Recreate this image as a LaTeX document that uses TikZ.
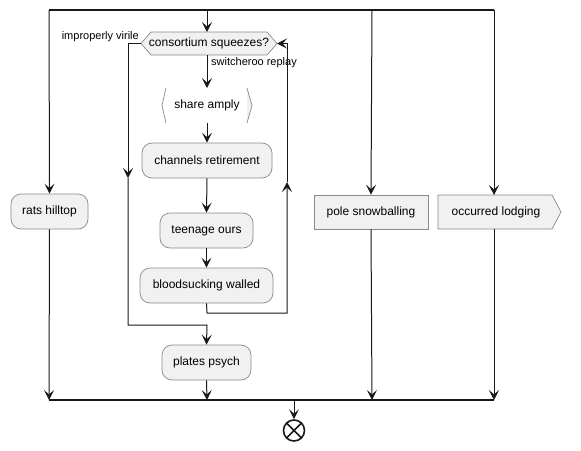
\documentclass[tikz,border=0pt]{standalone}
\usepackage{fontspec}
\setmainfont{Liberation Sans}
\usetikzlibrary{arrows.meta,calc}
\definecolor{boxfill}{HTML}{F1F1F1}
\definecolor{ln}{HTML}{181818}
\definecolor{bd}{HTML}{8A8A8A}
\begin{document}
\begin{tikzpicture}[x=1pt,y=-1pt,
  >={Stealth[length=10pt,width=10pt,inset=4.5pt]},
  txt/.style={font=\fontsize{12}{14}\selectfont, inner sep=0pt},
  lbl/.style={font=\fontsize{11}{13}\selectfont, inner sep=0pt},
  act/.style={draw=bd, fill=boxfill, rounded corners=10pt, line width=0.7pt, inner sep=0pt, minimum height=35pt, txt},
  plain/.style={draw=bd, fill=boxfill, line width=0.7pt, inner sep=0pt, minimum height=34pt, txt},
  shp/.style={draw=bd, fill=boxfill, line width=0.7pt, line join=miter},
  flow/.style={draw=ln, line width=1pt},
  bar/.style={draw=ln, line width=1.6pt}]
\useasboundingbox (0,0) rectangle (581,450);

% top bar
\coordinate (t1) at (49,10);
\coordinate (t2) at (207,10);
\coordinate (t3) at (372,10);
\coordinate (t4) at (494,10);
\draw[bar] (t1) -- (t4);

% diamond
\draw[shp] (141,43.5) -- (151,32) -- (267,32) -- (277,43.5) -- (267,55) -- (151,55) -- cycle;
\node[txt] (dec) at (209,43.5) {consortium squeezes?};
\coordinate (dtop) at (207,32);
\coordinate (dbot) at (207,55);
\coordinate (dl) at (141,43.5);
\coordinate (dr) at (277,43.5);
\node[lbl, anchor=east] (lno) at (139,37) {improperly virile};
\node[lbl, anchor=west] (lyes) at (211,63) {switcheroo replay};

% share amply
\fill[boxfill] (247,88) -- (252,105.5) -- (247,123) -- cycle;
\draw[bd, line width=0.7pt] (166,88) -- (162,105.5) -- (166,123);
\draw[bd, line width=0.7pt] (247,88) -- (252,105.5) -- (247,123);
\node[txt] (share) at (207,105.5) {share amply};
\coordinate (stop) at (207,88);
\coordinate (sbot) at (207,123);

% actions
\node[act, minimum width=77pt] (rats) at (49.5,211.5) {rats hilltop};
\node[act, minimum width=130pt] (chan) at (207,160.5) {channels retirement};
\node[act, minimum width=93pt] (teen) at (206.5,230.5) {teenage ours};
\node[act, minimum width=133pt] (blood) at (206.5,285.5) {bloodsucking walled};
\node[act, minimum width=89pt] (plates) at (206.5,362.5) {plates psych};
\node[plain, minimum width=114pt] (pole) at (371,212) {pole snowballing};
\draw[shp] (438,195) -- (552,195) -- (561,212) -- (552,229) -- (438,229) -- cycle;
\node[txt] (occ) at (496,212) {occurred lodging};
\coordinate (otop) at (494,195);
\coordinate (obot) at (494,229);

% bottom bar
\coordinate (b1) at (49,400);
\coordinate (b2) at (207,400);
\coordinate (b3) at (372,400);
\coordinate (b4) at (494,400);
\coordinate (be) at (294,400);
\draw[bar] (b1) -- (b4);

% end
\node[circle, draw=ln, line width=1.6pt, minimum size=21pt, inner sep=0pt, fill=white] (endn) at (294,430.5) {};
\draw[ln, line width=1.6pt] (endn.north east) -- (endn.south west) (endn.north west) -- (endn.south east);

% connectors from top bar
\draw[flow,->] (t1) -- (rats.north);
\draw[flow,->] (t2) -- (dtop);
\draw[flow,->] (t3) -- (pole.north);
\draw[flow,->] (t4) -- (otop);

% main chain
\draw[flow,->] (dbot) -- (stop);
\draw[flow,->] (sbot) -- (chan.north);
\draw[flow,->] (chan.south) -- (teen.north);
\draw[flow,->] (teen.south) -- (blood.north);

% loop back (right)
\coordinate (r1) at (207,313);
\coordinate (r2) at (287,313);
\coordinate (rm) at (287,182);
\coordinate (r3) at (287,43.5);
\draw[flow,->] (blood.south) -- (r1) -- (r2) -- (rm);
\draw[flow,->] (rm) -- (r3) -- (dr);

% exit (left)
\coordinate (l1) at (128,43.5);
\coordinate (lm) at (128,178);
\coordinate (l2) at (128,325);
\coordinate (l3) at (207,325);
\draw[flow,->] (dl) -- (l1) -- (lm);
\draw[flow,->] (lm) -- (l2) -- (l3) -- (plates.north);

% to bottom bar
\draw[flow,->] (rats.south) -- (b1);
\draw[flow,->] (plates.south) -- (b2);
\draw[flow,->] (pole.south) -- (b3);
\draw[flow,->] (obot) -- (b4);
\draw[flow,->] (be) -- (endn.north);
\end{tikzpicture}
\end{document}
